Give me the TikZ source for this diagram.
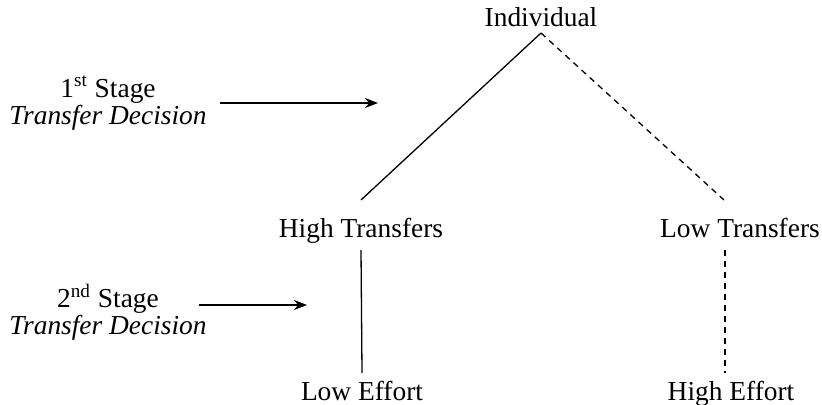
\documentclass[tikz,border=0pt]{standalone}
\usepackage{fontspec}
\setmainfont{Liberation Serif}
\usetikzlibrary{arrows.meta}

\begin{document}
\begin{tikzpicture}[x=0.5pt,y=-0.5pt,inner sep=1pt,outer sep=0pt,line width=0.65pt,
>={Stealth[length=6.5pt,width=5pt]},
choice/.style={anchor=base,text height=10pt,text depth=2pt,font=\fontsize{13.7pt}{13.3pt}\selectfont},
stagelabel/.style={align=center,font=\fontsize{13.7pt}{13.3pt}\selectfont},
stagearrow/.style={->,line width=1pt},
lowpath/.style={dash pattern=on 3pt off 2.5pt}]

\useasboundingbox (0,0) rectangle (822,405);

% decision tree
\draw (541,27) node[choice] (ind) {Individual};
\draw (361,238) node[choice] (hightr) {High Transfers};
\draw (740,238) node[choice] (lowtr) {Low Transfers};
\draw (362,400) node[choice] (loweff) {Low Effort};
\draw (731,400) node[choice] (higheff) {High Effort};

\draw (ind.south) -- ([yshift=8pt]hightr.north);
\draw[lowpath] (ind.south) -- ([xshift=-8pt,yshift=8pt]lowtr.north);
\draw ([yshift=-3pt]hightr.south) -- ([yshift=2.5pt]loweff.north);
\draw[lowpath] ([xshift=-7.5pt,yshift=-3pt]lowtr.south) -- ([xshift=-3pt,yshift=2.5pt]higheff.north);

% stages
\draw (108,103) node[stagelabel] (stage1) {1\textsuperscript{st} Stage\\\textit{Transfer Decision}};
\draw (108,312) node[stagelabel] (stage2) {2\textsuperscript{nd} Stage\\\textit{Transfer Decision}};
\coordinate (tip1) at (378,103);
\coordinate (tip2) at (307,305);
\draw[stagearrow] ([xshift=5.5pt]stage1.east |- tip1) -- (tip1);
\draw[stagearrow] ([xshift=-5pt]stage2.east |- tip2) -- (tip2);
\end{tikzpicture}
\end{document}
